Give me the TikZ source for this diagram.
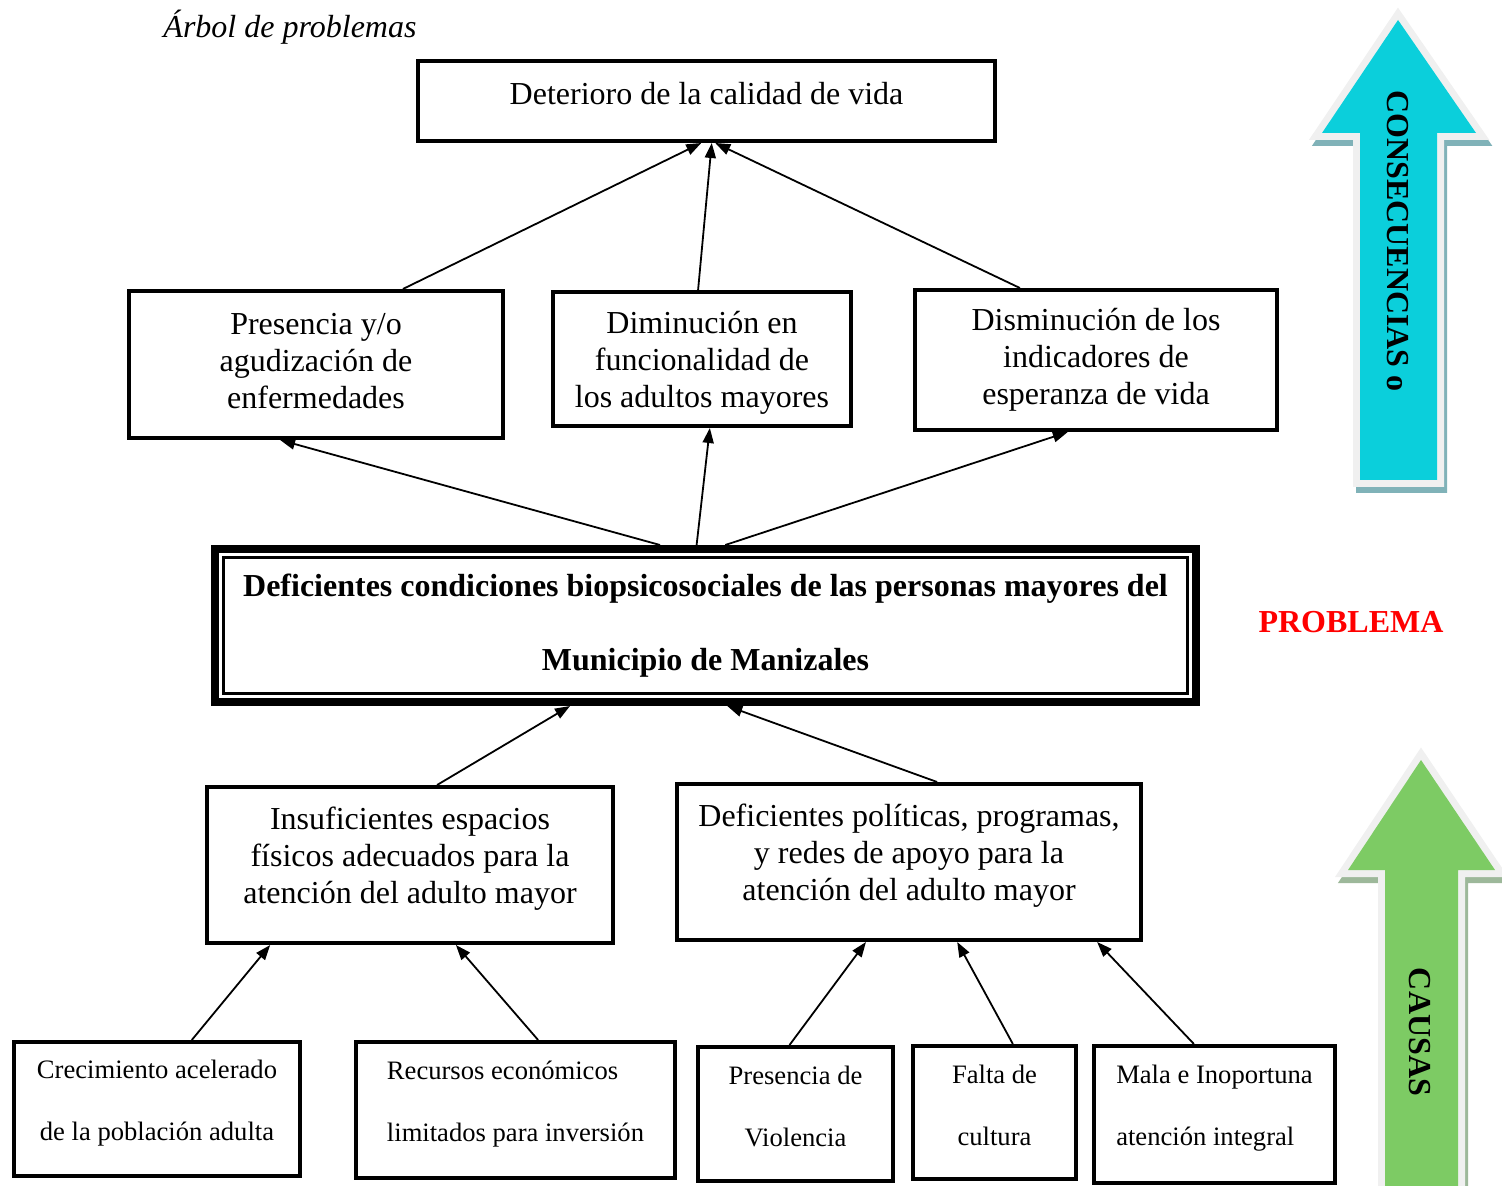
\documentclass[tikz,border=0pt]{standalone}
\usepackage{fontspec}
\setmainfont{Liberation Serif}
\usepackage{xcolor}
\usepackage{tikz}
\usetikzlibrary{positioning, arrows.meta, calc}

\definecolor{cianflecha}{HTML}{0BCFDB}
\definecolor{ciansombra}{HTML}{80B2B8}
\definecolor{verdeflecha}{HTML}{7DCB64}
\definecolor{verdesombra}{HTML}{9DB89A}
\definecolor{bordeclaro}{HTML}{F0F0F0}

\newcommand{\flechagrande}[3]{%
  \filldraw[#2, line width=7pt, line join=miter, shift={(1.5pt,-3pt)}] #3;
  \filldraw[bordeclaro, line width=7pt, line join=miter] #3;
  \fill[#1] #3;}

\begin{document}
\begin{tikzpicture}[x=0.5pt, y=-0.5pt,
  caja/.style={draw, line width=2pt, align=center, inner sep=0pt,
    font=\fontsize{16}{18.5}\selectfont},
  cajita/.style={draw, line width=2pt, align=center, inner sep=0pt,
    font=\fontsize{13.3}{31}\selectfont},
  arrow/.style={-{Triangle[length=7.5pt, width=5.5pt]}, line width=0.9pt}
]
\useasboundingbox (0,0) rectangle (1502,1186);

\node[font=\fontsize{16}{18}\selectfont\itshape] (titulo) at (290,27) {Árbol de problemas};

\node[caja, text depth=8pt, minimum width=288.5pt, minimum height=40pt] (T) at (706.5,101) {Deterioro de la calidad de vida};

\node[caja, text depth=4pt, minimum width=187pt, minimum height=73.5pt] (A) at (316,364.5) {Presencia y/o\\agudización de\\enfermedades};
\node[caja, text depth=0pt, minimum width=149pt, minimum height=67pt] (B) at (702,359) {Diminución en\\funcionalidad de\\los adultos mayores};
\node[caja, minimum width=181pt, minimum height=70pt] (C) at (1096,360) {Disminución de los\\indicadores de\\esperanza de vida};

\node[draw, line width=4pt, minimum width=490.5pt, minimum height=76.5pt, align=center,
  font=\fontsize{16}{37}\selectfont\bfseries] (P) at (705.5,625.5)
  {Deficientes condiciones biopsicosociales de las personas mayores del\\Municipio de Manizales};
\draw[line width=1.2pt] ([shift={(6.2pt,-6.2pt)}]P.north west) rectangle ([shift={(-6.2pt,6.2pt)}]P.south east);
\node[text=red, font=\fontsize{16}{18}\selectfont\bfseries] (problema) at (1351,622) {PROBLEMA};

\node[caja, text depth=9.5pt, minimum width=203pt, minimum height=78pt] (D) at (410,865) {Insuficientes espacios\\físicos adecuados para la\\atención del adulto mayor};
\node[caja, text depth=9.5pt, minimum width=232pt, minimum height=78pt] (E) at (909,862) {Deficientes políticas, programas,\\y redes de apoyo para la\\atención del adulto mayor};

\node[cajita, text depth=9pt, minimum width=143pt, minimum height=67pt] (F) at (157,1109) {Crecimiento acelerado\\de la población adulta};
\node[cajita, text depth=9pt, align=left, minimum width=159.5pt, minimum height=68pt] (G) at (515.5,1110) {Recursos económicos\\limitados para inversión};
\node[cajita, text depth=8pt, minimum width=97.5pt, minimum height=67pt] (H) at (795.5,1114) {Presencia de\\Violencia};
\node[cajita, text depth=7pt, minimum width=81.5pt, minimum height=66.5pt] (I) at (994.5,1112.5) {Falta de\\cultura};
\node[cajita, text depth=9pt, align=left, minimum width=120.5pt, minimum height=68.5pt] (J) at (1214.5,1114.5) {Mala e Inoportuna\\atención integral};

\draw[arrow] ($(A.north west)!0.73!(A.north east)$) -- ($(T.south west)!0.491!(T.south east)$);
\draw[arrow] ($(B.north west)!0.487!(B.north east)$) -- ($(T.south west)!0.509!(T.south east)$);
\draw[arrow] ($(C.north west)!0.292!(C.north east)$) -- ($(T.south west)!0.515!(T.south east)$);

\draw[arrow] ($(P.north west)!0.454!(P.north east)$) -- ($(A.south west)!0.405!(A.south east)$);
\draw[arrow] ($(P.north west)!0.491!(P.north east)$) -- ($(B.south west)!0.526!(B.south east)$);
\draw[arrow] ($(P.north west)!0.52!(P.north east)$) -- ($(C.south west)!0.423!(C.south east)$);

\draw[arrow] ($(D.north west)!0.566!(D.north east)$) -- ($(P.south west)!0.363!(P.south east)$);
\draw[arrow] ($(E.north west)!0.56!(E.north east)$) -- ($(P.south west)!0.522!(P.south east)$);

\draw[arrow] ($(F.north west)!0.62!(F.north east)$) -- ($(D.south west)!0.159!(D.south east)$);
\draw[arrow] ($(G.north west)!0.57!(G.north east)$) -- ($(D.south west)!0.612!(D.south east)$);
\draw[arrow] ($(H.north west)!0.47!(H.north east)$) -- ($(E.south west)!0.408!(E.south east)$);
\draw[arrow] ($(I.north west)!0.61!(I.north east)$) -- ($(E.south west)!0.603!(E.south east)$);
\draw[arrow] ($(J.north west)!0.416!(J.north east)$) -- ($(E.south west)!0.902!(E.south east)$);

\flechagrande{cianflecha}{ciansombra}{(1398,20) -- (1476,133) -- (1437,133) -- (1437,480) -- (1360,480) -- (1360,133) -- (1322,133) -- cycle}
\node[rotate=-90, font=\fontsize{16}{18}\selectfont\bfseries] (consecuencias) at (1398,241) {CONSECUENCIAS o};

\flechagrande{verdeflecha}{verdesombra}{(1421,760) -- (1495,870) -- (1458,870) -- (1458,1210) -- (1385,1210) -- (1385,870) -- (1348,870) -- cycle}
\node[rotate=-90, font=\fontsize{16}{18}\selectfont\bfseries] (causas) at (1420,1032) {CAUSAS};
\end{tikzpicture}
\end{document}
